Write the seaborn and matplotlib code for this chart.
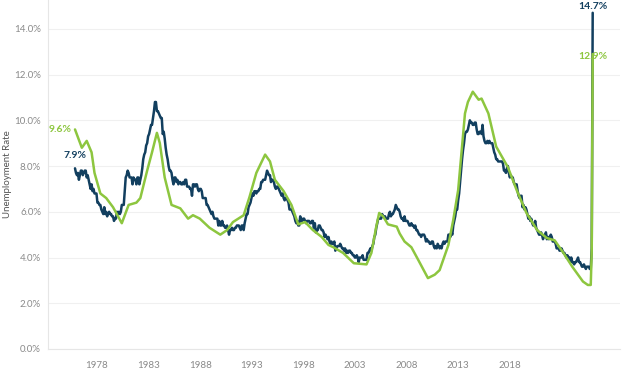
import numpy as np
import pandas as pd
import matplotlib
matplotlib.use("Agg")
import matplotlib.pyplot as plt
import seaborn as sns

# US unemployment rate, monthly from Jan 1976 to Apr 2020
us_rate = [
    7.9, 7.7, 7.6, 7.7, 7.4, 7.6, 7.8, 7.8, 7.6, 7.7, 7.8, 7.8,
    7.5, 7.6, 7.4, 7.2, 7.0, 7.2, 6.9, 7.0, 6.8, 6.8, 6.8, 6.4,
    6.4, 6.3, 6.3, 6.1, 6.0, 5.9, 6.2, 5.9, 6.0, 5.8, 5.9, 6.0,
    5.9, 5.9, 5.8, 5.8, 5.6, 5.7, 5.7, 6.0, 5.9, 6.0, 5.9, 6.0,
    6.3, 6.3, 6.3, 6.9, 7.5, 7.6, 7.8, 7.7, 7.5, 7.5, 7.5, 7.2,
    7.5, 7.4, 7.4, 7.2, 7.5, 7.5, 7.2, 7.4, 7.6, 7.9, 8.3, 8.5,
    8.6, 8.9, 9.0, 9.3, 9.4, 9.6, 9.8, 9.8, 10.1, 10.4, 10.8, 10.8,
    10.4, 10.4, 10.3, 10.2, 10.1, 10.1, 9.4, 9.5, 9.2, 8.8, 8.5, 8.3,
    8.0, 7.8, 7.8, 7.7, 7.4, 7.2, 7.5, 7.5, 7.3, 7.4, 7.2, 7.3,
    7.3, 7.2, 7.2, 7.3, 7.2, 7.4, 7.4, 7.1, 7.1, 7.1, 7.0, 7.0,
    6.7, 7.2, 7.2, 7.1, 7.2, 7.2, 7.0, 6.9, 7.0, 7.0, 6.9, 6.6,
    6.6, 6.6, 6.6, 6.3, 6.3, 6.2, 6.1, 6.0, 5.9, 6.0, 5.8, 5.7,
    5.7, 5.7, 5.7, 5.4, 5.6, 5.4, 5.4, 5.6, 5.4, 5.4, 5.3, 5.3,
    5.4, 5.2, 5.0, 5.2, 5.2, 5.3, 5.2, 5.2, 5.3, 5.3, 5.4, 5.4,
    5.4, 5.3, 5.2, 5.4, 5.4, 5.2, 5.5, 5.7, 5.9, 5.9, 6.2, 6.3,
    6.4, 6.6, 6.8, 6.7, 6.9, 6.9, 6.8, 6.9, 6.9, 7.0, 7.0, 7.3,
    7.3, 7.4, 7.4, 7.4, 7.6, 7.8, 7.7, 7.6, 7.6, 7.3, 7.4, 7.4,
    7.3, 7.1, 7.0, 7.1, 7.1, 7.0, 6.9, 6.8, 6.7, 6.8, 6.6, 6.5,
    6.6, 6.6, 6.5, 6.4, 6.1, 6.1, 6.1, 6.0, 5.9, 5.8, 5.6, 5.5,
    5.6, 5.4, 5.4, 5.8, 5.6, 5.6, 5.7, 5.7, 5.6, 5.5, 5.6, 5.6,
    5.6, 5.5, 5.5, 5.6, 5.6, 5.3, 5.5, 5.1, 5.2, 5.2, 5.4, 5.4,
    5.3, 5.2, 5.2, 5.1, 4.9, 5.0, 4.9, 4.8, 4.9, 4.7, 4.6, 4.7,
    4.6, 4.6, 4.7, 4.3, 4.4, 4.5, 4.5, 4.5, 4.6, 4.5, 4.4, 4.4,
    4.3, 4.4, 4.2, 4.3, 4.2, 4.3, 4.3, 4.2, 4.2, 4.1, 4.1, 4.0,
    4.0, 4.1, 4.0, 3.8, 4.0, 4.0, 4.0, 4.1, 3.9, 3.9, 3.9, 3.9,
    4.2, 4.2, 4.3, 4.4, 4.3, 4.5, 4.6, 4.9, 5.0, 5.3, 5.5, 5.7,
    5.7, 5.7, 5.7, 5.9, 5.8, 5.8, 5.8, 5.7, 5.7, 5.7, 5.9, 6.0,
    5.8, 5.9, 5.9, 6.0, 6.1, 6.3, 6.2, 6.1, 6.1, 6.0, 5.8, 5.7,
    5.7, 5.6, 5.8, 5.6, 5.6, 5.6, 5.5, 5.4, 5.4, 5.5, 5.4, 5.4,
    5.3, 5.4, 5.2, 5.2, 5.1, 5.0, 5.0, 4.9, 5.0, 5.0, 5.0, 4.9,
    4.7, 4.8, 4.7, 4.7, 4.6, 4.6, 4.7, 4.7, 4.5, 4.4, 4.5, 4.4,
    4.6, 4.5, 4.4, 4.5, 4.4, 4.6, 4.7, 4.6, 4.7, 4.7, 4.7, 5.0,
    5.0, 4.9, 5.1, 5.0, 5.4, 5.6, 5.8, 6.1, 6.1, 6.5, 6.8, 7.3,
    7.8, 8.3, 8.7, 9.0, 9.4, 9.5, 9.5, 9.6, 9.8, 10.0, 9.9, 9.9,
    9.8, 9.8, 9.9, 9.9, 9.6, 9.4, 9.4, 9.5, 9.5, 9.4, 9.8, 9.3,
    9.1, 9.0, 9.0, 9.1, 9.0, 9.1, 9.0, 9.0, 9.0, 8.8, 8.6, 8.5,
    8.3, 8.3, 8.2, 8.2, 8.2, 8.2, 8.2, 8.1, 7.8, 7.8, 7.7, 7.9,
    8.0, 7.7, 7.5, 7.6, 7.5, 7.5, 7.3, 7.2, 7.2, 7.2, 6.9, 6.7,
    6.6, 6.7, 6.7, 6.2, 6.3, 6.1, 6.2, 6.1, 5.9, 5.7, 5.8, 5.6,
    5.7, 5.5, 5.4, 5.4, 5.6, 5.3, 5.2, 5.1, 5.0, 5.0, 5.1, 5.0,
    4.8, 4.9, 5.0, 5.1, 4.8, 4.9, 4.8, 4.9, 5.0, 4.9, 4.7, 4.7,
    4.7, 4.6, 4.4, 4.4, 4.4, 4.3, 4.3, 4.4, 4.3, 4.2, 4.2, 4.1,
    4.0, 4.1, 4.0, 4.0, 3.8, 4.0, 3.8, 3.8, 3.7, 3.8, 3.8, 3.9,
    4.0, 3.8, 3.8, 3.7, 3.6, 3.6, 3.7, 3.6, 3.5, 3.6, 3.6, 3.6,
    3.5, 3.5, 4.4, 14.7,
]

# state series (smoother); month index from Jan 1976
state_month = [
    0, 7, 12, 17, 20, 26, 32, 39, 48, 55, 63, 67, 74, 79, 84, 87, 92, 99,
    108, 116, 121, 128, 138, 149, 156, 162, 173, 179, 186, 195, 200, 205,
    214, 222, 229, 236, 244, 253, 260, 265, 275, 286, 299, 304, 309, 312,
    316, 321, 330, 333, 338, 345, 352, 362, 369, 374, 383, 388, 393, 400,
    403, 408, 414, 417, 424, 432, 444, 453, 463, 474, 484, 492, 501, 510,
    521, 526, 529, 530, 531,
]
state_rate = [
    9.6, 8.8, 9.1, 8.6, 7.7, 6.8, 6.6, 6.2, 5.5, 6.3, 6.4, 6.6, 7.8, 8.6,
    9.45, 9.0, 7.5, 6.3, 6.15, 5.7, 5.85, 5.7, 5.3, 5.0, 5.2, 5.55, 5.85,
    6.65, 7.7, 8.5, 8.2, 7.4, 6.9, 6.3, 5.45, 5.55, 5.2, 4.9, 4.55, 4.45,
    4.2, 3.75, 3.7, 4.2, 5.35, 5.95, 5.8, 5.45, 5.35, 5.05, 4.7, 4.45,
    3.9, 3.1, 3.25, 3.45, 4.55, 5.65, 6.95, 10.3, 10.8, 11.25, 10.9,
    10.95, 10.3, 8.85, 7.95, 6.95, 5.95, 5.2, 4.85, 4.75, 4.2, 3.6, 2.95,
    2.8, 2.8, 4.3, 12.9,
]

tick_labels = ["1978", "1983", "1988", "1993", "1998", "2003", "2008", "2013", "2018"]
y_ticks = [0, 2, 4, 6, 8, 10, 12, 14]

navy = "#123f5f"
green = "#8dc63f"

us_df = pd.DataFrame({"month": np.arange(len(us_rate)), "rate": us_rate})
st_df = pd.DataFrame({"month": state_month, "rate": state_rate})

sns.set_style("white")
plt.rcParams["font.family"] = ["Lato", "DejaVu Sans"]

fig = plt.figure(figsize=(6.27, 3.76), dpi=100)
ax = fig.add_axes([48 / 627, 27 / 376, 572 / 627, 349 / 376])

sns.lineplot(data=us_df, x="month", y="rate", color=navy, lw=1.8, ax=ax)
sns.lineplot(data=st_df, x="month", y="rate", color=green, lw=1.8, ax=ax)

ax.set_xlim(-27.7, 559)
ax.set_ylim(0, 15.26)

ax.set_yticks(y_ticks)
ax.set_yticklabels([f"{v:.1f}%" for v in y_ticks], fontsize=7, color="#8a8a8a")
tick_pos = 22.6 + 52.9 * np.arange(len(tick_labels))
ax.set_xticks(tick_pos)
ax.set_xticklabels(tick_labels, fontsize=7, color="#8a8a8a")
ax.tick_params(axis="x", length=3, color="#e6e6e6", pad=6)
ax.tick_params(axis="y", length=0, pad=5)

ax.grid(axis="y", color="#f0f0f0", lw=0.8)
ax.set_axisbelow(True)
for s in ["top", "right"]:
    ax.spines[s].set_visible(False)
ax.spines["left"].set_color("#e6e6e6")
ax.spines["bottom"].set_color("#e6e6e6")
ax.spines["left"].set_linewidth(0.8)
ax.spines["bottom"].set_linewidth(0.8)

ax.set_xlabel("")
ax.set_ylabel("Unemployment Rate", fontsize=7, color="#555555")
ax.yaxis.set_label_coords(-0.063, 0.5)

# value labels at the start and end of each line
ax.text(state_month[0] - 3, state_rate[0], f"{state_rate[0]:.1f}%", color=green,
        fontsize=7.5, fontweight="bold", ha="right", va="center")
ax.text(0, us_rate[0] + 0.35, f"{us_rate[0]:.1f}%", color=navy,
        fontsize=7.5, fontweight="bold", ha="center", va="bottom")
ax.text(len(us_rate) - 1, us_rate[-1] + 0.08, f"{us_rate[-1]:.1f}%", color=navy,
        fontsize=7.5, fontweight="bold", ha="center", va="bottom")
ax.text(state_month[-1], state_rate[-1] - 0.1, f"{state_rate[-1]:.1f}%", color=green,
        fontsize=7.5, fontweight="bold", ha="center", va="center")

fig.savefig("out.png", dpi=100)
